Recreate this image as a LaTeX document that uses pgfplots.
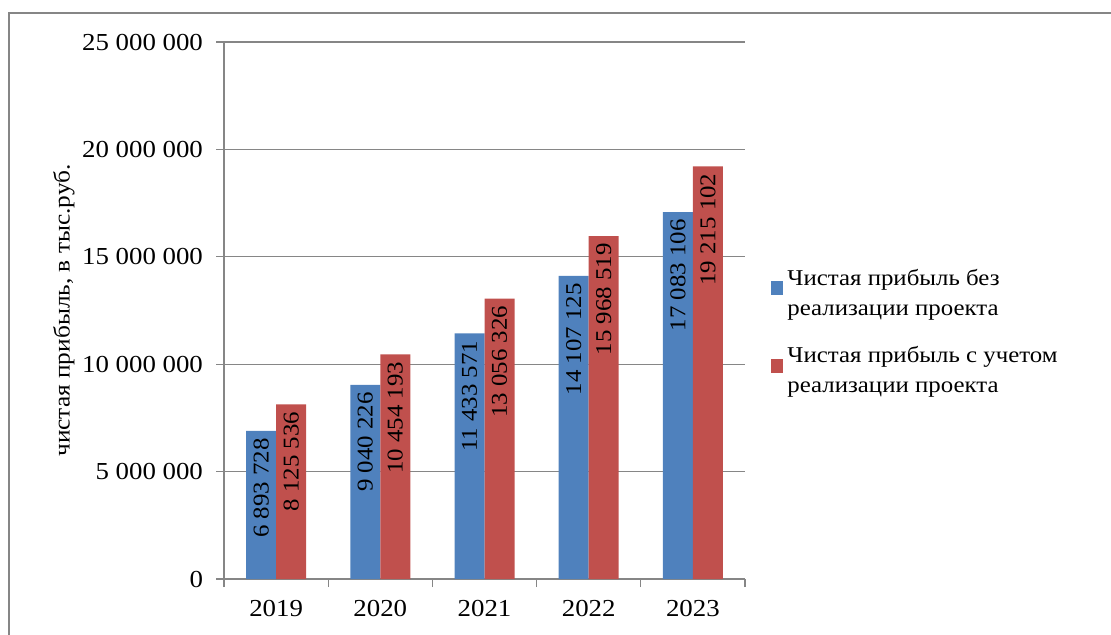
\documentclass[border=0pt]{standalone}
\usepackage{fontspec}
\setmainfont{Liberation Serif}[FakeStretch=1.1]
\usepackage{pgfplots}
\pgfplotsset{compat=1.18}

\definecolor{xlblue}{HTML}{4F81BD}
\definecolor{xlred}{HTML}{C0504D}
\definecolor{xlgrid}{HTML}{868686}

\begin{document}
\begin{tikzpicture}
% page = 1111x634 px, 1 px = 0.5pt
\useasboundingbox (0,0) rectangle (555.5pt,317pt);
\draw[xlgrid, line width=0.8pt] (4.5pt,-20pt) -- (4.5pt,310.5pt) -- (600pt,310.5pt);

\begin{axis}[
    at={(112pt,27.5pt)}, anchor=south west,
    scale only axis,
    width=260.5pt, height=268.5pt,
    xmin=-0.5, xmax=4.5,
    ymin=0, ymax=25000000,
    axis lines*=left,
    axis line style={xlgrid, line width=0.6pt},
    ymajorgrids=true,
    grid style={xlgrid, line width=0.6pt},
    ytick={0,5000000,10000000,15000000,20000000,25000000},
    yticklabels={0,5 000 000,10 000 000,15 000 000,20 000 000,25 000 000},
    xtick={0,1,2,3,4},
    xticklabels={2019,2020,2021,2022,2023},
    minor xtick={-0.5,0.5,1.5,2.5,3.5,4.5},
    tick align=outside,
    major tick length=4pt,
    minor tick length=4pt,
    every tick/.style={xlgrid, line width=0.6pt},
    x tick style={draw=none},
    minor x tick style={draw=xlgrid, line width=0.6pt},
    tick label style={font=\fontsize{12.2}{14}\selectfont},
    yticklabel style={xshift=-3pt},
    xticklabel style={yshift=-3pt},
    scaled y ticks=false,
    ylabel={чистая прибыль, в тыс.руб.},
    ylabel style={at={(axis description cs:0,0.5)}, anchor=center, yshift=80pt,
        font=\fontsize{11.5}{14}\selectfont},
    ybar, bar width=15pt,
    point meta=explicit symbolic,
    nodes near coords,
    every node near coord/.append style={rotate=90, anchor=east, inner xsep=3.5pt,
        font=\fontsize{11.3}{14}\selectfont, text=black},
    legend style={at={(1,0.5)}, anchor=west, xshift=10pt, yshift=-10.75pt,
        draw=none, fill=none, font=\fontsize{11.3}{15}\selectfont,
        row sep=10pt, cells={align=left}},
    legend cell align=left,
    legend image code/.code={\fill[#1] (0pt,-1pt) rectangle (6pt,6pt);},
]
\addplot[fill=xlblue, draw=none, bar shift=-7.5pt] coordinates {
    (0,6893728) [6 893 728]
    (1,9040226) [9 040 226]
    (2,11433571) [11 433 571]
    (3,14107125) [14 107 125]
    (4,17083106) [17 083 106]
};
\addlegendentry{Чистая прибыль без\\реализации проекта}
\addplot[fill=xlred, draw=none, bar shift=7.5pt] coordinates {
    (0,8125536) [8 125 536]
    (1,10454193) [10 454 193]
    (2,13056326) [13 056 326]
    (3,15968519) [15 968 519]
    (4,19215102) [19 215 102]
};
\addlegendentry{Чистая прибыль с учетом\\реализации проекта}
\end{axis}
\end{tikzpicture}
\end{document}
